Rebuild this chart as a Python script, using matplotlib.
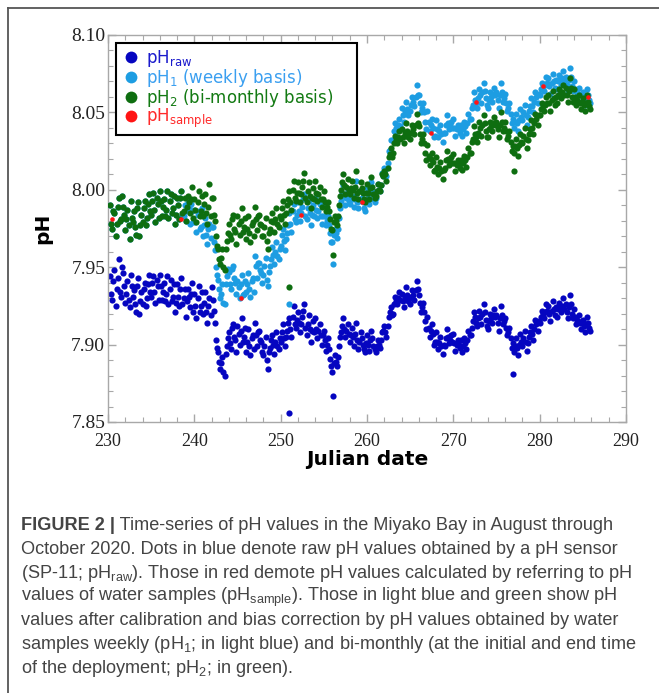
'''pH time series from the Miyako Bay mooring, Aug - Oct 2020.
Raw sensor values, two calibrated versions and the water sample values.'''

import matplotlib
matplotlib.use('Agg')
import matplotlib.pyplot as plt
from matplotlib.lines import Line2D
from matplotlib.ticker import MultipleLocator, FormatStrFormatter
from matplotlib.font_manager import FontProperties
import numpy as np

plt.rcParams['mathtext.default'] = 'regular'

#################### DATA ####################
# sensor readings every 6 h from day 230.25, plus the in-between
# readings (every 6 h from day 230.375)
t0 = 230.25
t0_mid = 230.375
dt = 0.25

ph_raw = [
    7.944, 7.929, 7.948,
    7.936, 7.955, 7.931, 7.946,  7.927, 7.941, 7.924, 7.938,
    7.935, 7.921, 7.943, 7.928,  7.926, 7.940, 7.930, 7.945,
    7.931, 7.944, 7.927, 7.938,  7.945, 7.929, 7.940, 7.933,
    7.926, 7.942, 7.931, 7.921,  7.939, 7.925, 7.943, 7.930,
    7.918, 7.936, 7.924, 7.940,  7.933, 7.917, 7.938, 7.925,
    7.920, 7.934, 7.914, 7.930,  7.937, 7.922, 7.903, 7.895,
    7.884, 7.892, 7.880, 7.899,  7.908, 7.897, 7.913, 7.903,
    7.912, 7.900, 7.917, 7.905,  7.895, 7.910, 7.893, 7.906,
    7.914, 7.899, 7.909, 7.902,  7.893, 7.905, 7.884, 7.898,
    7.906, 7.894, 7.908, 7.897,  7.902, 7.913, 7.899, 7.909,
    7.917, 7.905, 7.925, 7.911,  7.921, 7.908, 7.918, 7.926,
    7.906, 7.919, 7.902, 7.915,  7.917, 7.904, 7.913, 7.900,
    7.909, 7.896, 7.904, 7.891,  7.882, 7.893, 7.886, 7.899,
    7.908, 7.917, 7.905, 7.913,  7.902, 7.911, 7.899, 7.914,
    7.897, 7.908, 7.900, 7.895,  7.906, 7.896, 7.909, 7.899,
    7.895, 7.903, 7.898, 7.908,  7.912, 7.905, 7.918, 7.924,
    7.920, 7.931, 7.926, 7.934,  7.933, 7.924, 7.937, 7.928,
    7.926, 7.935, 7.929, 7.941,  7.932, 7.921, 7.927, 7.915,
    7.918, 7.905, 7.913, 7.900,  7.908, 7.897, 7.905, 7.894,
    7.899, 7.910, 7.901, 7.906,  7.907, 7.896, 7.903, 7.898,
    7.895, 7.904, 7.897, 7.909,  7.906, 7.915, 7.918, 7.912,
    7.922, 7.913, 7.926, 7.916,  7.910, 7.920, 7.914, 7.923,
    7.919, 7.909, 7.925, 7.913,  7.917, 7.906, 7.911, 7.898,
    7.895, 7.904, 7.893, 7.907,  7.899, 7.909, 7.896, 7.905,
    7.912, 7.903, 7.916, 7.909,  7.914, 7.922, 7.917, 7.926,
    7.925, 7.915, 7.928, 7.919,  7.918, 7.927, 7.921, 7.930,
    7.926, 7.917, 7.932, 7.920,  7.923, 7.913, 7.919, 7.910,
    7.916, 7.908, 7.918, 7.911,
]
ph_raw_mid = [
    7.933, 7.941, 7.925,
    7.943, 7.934, 7.950, 7.938,  7.933, 7.929, 7.945, 7.931,
    7.926, 7.938, 7.920, 7.934,  7.936, 7.925, 7.939, 7.934,
    7.940, 7.934, 7.942, 7.929,  7.938, 7.934, 7.928, 7.944,
    7.936, 7.928, 7.939, 7.927,  7.931, 7.936, 7.926, 7.936,
    7.928, 7.931, 7.933, 7.921,  7.925, 7.930, 7.921, 7.934,
    7.927, 7.921, 7.925, 7.919,  7.929, 7.914, 7.898, 7.889,
    7.888, 7.882, 7.894, 7.904,  7.901, 7.911, 7.905, 7.895,
    7.907, 7.909, 7.902, 7.911,  7.902, 7.899, 7.904, 7.897,
    7.906, 7.908, 7.903, 7.895,  7.899, 7.890, 7.895, 7.903,
    7.900, 7.902, 7.899, 7.904,  7.908, 7.904, 7.905, 7.914,
    7.910, 7.918, 7.913, 7.916,  7.914, 7.913, 7.922, 7.911,
    7.913, 7.910, 7.909, 7.908,  7.910, 7.909, 7.906, 7.906,
    7.903, 7.900, 7.897, 7.886,  7.888, 7.889, 7.892, 7.905,
    7.912, 7.910, 7.909, 7.907,  7.906, 7.905, 7.907, 7.903,
    7.902, 7.904, 7.897, 7.901,  7.900, 7.903, 7.904, 7.897,
    7.899, 7.900, 7.903, 7.909,  7.908, 7.912, 7.921, 7.919,
    7.926, 7.928, 7.930, 7.929,  7.928, 7.931, 7.932, 7.931,
    7.930, 7.932, 7.935, 7.936,  7.927, 7.924, 7.921, 7.910,
    7.911, 7.909, 7.907, 7.902,  7.902, 7.901, 7.899, 7.900,
    7.904, 7.905, 7.903, 7.902,  7.901, 7.900, 7.900, 7.903,
    7.899, 7.901, 7.903, 7.906,  7.911, 7.921, 7.914, 7.917,
    7.918, 7.920, 7.921, 7.912,  7.915, 7.917, 7.919, 7.918,
    7.914, 7.917, 7.919, 7.915,  7.911, 7.908, 7.904, 7.901,
    7.899, 7.898, 7.900, 7.902,  7.904, 7.902, 7.901, 7.908,
    7.907, 7.910, 7.913, 7.915,  7.918, 7.920, 7.921, 7.922,
    7.920, 7.922, 7.923, 7.924,  7.923, 7.924, 7.925, 7.923,
    7.921, 7.924, 7.926, 7.917,  7.918, 7.916, 7.914, 7.915,
    7.912, 7.913, 7.914, 7.909,
]

# weekly calibrated (pH1)
ph_1 = [
    7.990, 7.975, 7.985,
    7.978, 7.995, 7.981, 7.989,  7.974, 7.987, 7.968, 7.982,
    7.986, 7.971, 7.992, 7.977,  7.979, 7.993, 7.982, 7.997,
    7.984, 7.998, 7.979, 7.991,  7.999, 7.983, 7.994, 7.987,
    7.982, 7.997, 7.988, 7.978,  7.995, 7.981, 7.999, 7.983,
    7.980, 7.992, 7.978, 7.986,  7.987, 7.973, 7.986, 7.976,
    7.970, 7.982, 7.965, 7.978,  7.976, 7.966, 7.950, 7.942,
    7.930, 7.939, 7.926, 7.944,  7.947, 7.936, 7.951, 7.940,
    7.941, 7.930, 7.945, 7.933,  7.934, 7.946, 7.931, 7.943,
    7.957, 7.943, 7.953, 7.946,  7.945, 7.956, 7.938, 7.951,
    7.963, 7.952, 7.966, 7.955,  7.964, 7.975, 7.961, 7.972,
    7.985, 7.973, 7.991, 7.979,  7.992, 7.980, 7.989, 7.997,
    7.981, 7.993, 7.977, 7.990,  7.995, 7.982, 7.991, 7.978,
    7.990, 7.977, 7.983, 7.972,  7.966, 7.975, 7.969, 7.982,
    7.993, 8.003, 7.990, 8.000,  7.991, 8.000, 7.989, 8.006,
    7.988, 7.999, 7.992, 7.986,  8.001, 7.991, 8.005, 7.994,
    7.995, 8.004, 7.999, 8.011,  8.014, 8.009, 8.025, 8.032,
    8.032, 8.043, 8.038, 8.046,  8.053, 8.044, 8.057, 8.048,
    8.051, 8.060, 8.054, 8.068,  8.061, 8.050, 8.056, 8.044,
    8.051, 8.038, 8.046, 8.034,  8.045, 8.034, 8.042, 8.031,
    8.037, 8.048, 8.039, 8.044,  8.046, 8.035, 8.042, 8.037,
    8.035, 8.044, 8.037, 8.049,  8.046, 8.055, 8.058, 8.053,
    8.065, 8.056, 8.069, 8.059,  8.053, 8.063, 8.057, 8.066,
    8.063, 8.053, 8.069, 8.057,  8.062, 8.051, 8.056, 8.043,
    8.040, 8.049, 8.038, 8.052,  8.045, 8.055, 8.042, 8.051,
    8.059, 8.050, 8.063, 8.056,  8.061, 8.069, 8.064, 8.073,
    8.072, 8.062, 8.075, 8.066,  8.065, 8.074, 8.068, 8.077,
    8.073, 8.064, 8.079, 8.067,  8.070, 8.060, 8.066, 8.057,
    8.063, 8.055, 8.065, 8.058,
]
ph_1_mid = [
    7.978, 7.986, 7.970,
    7.989, 7.980, 7.996, 7.984,  7.981, 7.977, 7.993, 7.979,
    7.976, 7.988, 7.970, 7.984,  7.988, 7.977, 7.991, 7.986,
    7.993, 7.987, 7.995, 7.982,  7.993, 7.989, 7.983, 7.999,
    7.993, 7.985, 7.996, 7.984,  7.990, 7.995, 7.983, 7.990,
    7.986, 7.989, 7.991, 7.979,  7.979, 7.984, 7.975, 7.988,
    7.977, 7.971, 7.975, 7.969,  7.976, 7.961, 7.945, 7.936,
    7.933, 7.927, 7.939, 7.949,  7.939, 7.949, 7.943, 7.933,
    7.937, 7.939, 7.932, 7.941,  7.939, 7.936, 7.941, 7.934,
    7.951, 7.953, 7.948, 7.940,  7.951, 7.942, 7.947, 7.955,
    7.958, 7.960, 7.957, 7.962,  7.971, 7.967, 7.968, 7.977,
    7.978, 7.986, 7.981, 7.984,  7.986, 7.985, 7.994, 7.983,
    7.988, 7.985, 7.984, 7.983,  7.987, 7.986, 7.983, 7.983,
    7.983, 7.980, 7.977, 7.966,  7.971, 7.972, 7.975, 7.988,
    7.998, 7.996, 7.995, 7.993,  7.995, 7.994, 7.996, 7.992,
    7.993, 7.995, 7.988, 7.992,  7.995, 7.998, 7.999, 7.992,
    7.999, 8.000, 8.003, 8.009,  8.013, 8.017, 8.026, 8.024,
    8.038, 8.040, 8.042, 8.041,  8.048, 8.051, 8.052, 8.051,
    8.055, 8.057, 8.060, 8.061,  8.056, 8.053, 8.050, 8.039,
    8.044, 8.042, 8.040, 8.035,  8.039, 8.038, 8.036, 8.037,
    8.042, 8.043, 8.041, 8.040,  8.040, 8.039, 8.039, 8.042,
    8.039, 8.041, 8.043, 8.046,  8.053, 8.063, 8.056, 8.059,
    8.061, 8.063, 8.064, 8.055,  8.058, 8.060, 8.062, 8.061,
    8.058, 8.061, 8.063, 8.059,  8.056, 8.053, 8.049, 8.046,
    8.044, 8.043, 8.045, 8.047,  8.050, 8.048, 8.047, 8.054,
    8.054, 8.057, 8.060, 8.062,  8.065, 8.067, 8.068, 8.069,
    8.067, 8.069, 8.070, 8.071,  8.070, 8.071, 8.072, 8.070,
    8.068, 8.071, 8.073, 8.064,  8.065, 8.063, 8.061, 8.062,
    8.059, 8.060, 8.061, 8.056,
]

# bi-monthly calibrated (pH2)
ph_2 = [
    7.990, 7.975, 7.985,
    7.978, 7.995, 7.981, 7.989,  7.974, 7.987, 7.968, 7.982,
    7.986, 7.971, 7.992, 7.977,  7.979, 7.993, 7.982, 7.997,
    7.984, 7.998, 7.979, 7.991,  7.999, 7.983, 7.994, 7.987,
    7.982, 7.997, 7.988, 7.978,  7.995, 7.981, 7.999, 7.986,
    7.980, 7.996, 7.985, 8.002,  7.994, 7.979, 7.999, 7.986,
    7.983, 7.997, 7.978, 8.004,  7.995, 7.984, 7.970, 7.962,
    7.952, 7.962, 7.948, 7.967,  7.978, 7.968, 7.984, 7.973,
    7.983, 7.971, 7.988, 7.976,  7.968, 7.983, 7.966, 7.979,
    7.989, 7.974, 7.984, 7.977,  7.970, 7.982, 7.962, 7.975,
    7.985, 7.973, 7.988, 7.976,  7.981, 7.993, 7.978, 7.990,
    7.999, 7.987, 8.006, 7.993,  8.005, 7.992, 8.002, 8.011,
    7.992, 8.005, 7.988, 8.001,  8.006, 7.993, 8.002, 7.989,
    7.999, 7.986, 7.992, 7.981,  7.974, 7.983, 7.977, 7.990,
    8.000, 8.010, 7.997, 8.007,  7.997, 8.006, 7.995, 8.012,
    7.994, 8.005, 7.998, 7.992,  8.004, 7.994, 8.008, 7.997,
    7.996, 8.004, 7.999, 8.010,  8.012, 8.006, 8.021, 8.027,
    8.024, 8.035, 8.030, 8.038,  8.039, 8.030, 8.043, 8.034,
    8.033, 8.042, 8.036, 8.049,  8.041, 8.030, 8.036, 8.024,
    8.029, 8.016, 8.024, 8.012,  8.021, 8.010, 8.018, 8.007,
    8.014, 8.025, 8.016, 8.021,  8.023, 8.012, 8.019, 8.014,
    8.013, 8.022, 8.015, 8.027,  8.024, 8.033, 8.036, 8.031,
    8.044, 8.035, 8.048, 8.038,  8.034, 8.044, 8.038, 8.047,
    8.044, 8.034, 8.050, 8.038,  8.044, 8.033, 8.038, 8.025,
    8.024, 8.033, 8.022, 8.036,  8.030, 8.040, 8.027, 8.036,
    8.045, 8.036, 8.049, 8.042,  8.048, 8.056, 8.051, 8.060,
    8.061, 8.051, 8.064, 8.055,  8.056, 8.065, 8.059, 8.068,
    8.066, 8.057, 8.072, 8.060,  8.065, 8.055, 8.061, 8.052,
    8.059, 8.051, 8.061, 8.054,
]
ph_2_mid = [
    7.978, 7.986, 7.970,
    7.989, 7.980, 7.996, 7.984,  7.981, 7.977, 7.993, 7.979,
    7.976, 7.988, 7.970, 7.984,  7.988, 7.977, 7.991, 7.986,
    7.993, 7.987, 7.995, 7.982,  7.993, 7.989, 7.983, 7.999,
    7.993, 7.985, 7.996, 7.984,  7.990, 7.995, 7.985, 7.995,
    7.989, 7.992, 7.994, 7.982,  7.987, 7.992, 7.983, 7.996,
    7.991, 7.985, 7.989, 7.983,  7.995, 7.980, 7.964, 7.955,
    7.956, 7.950, 7.962, 7.972,  7.971, 7.981, 7.975, 7.965,
    7.978, 7.980, 7.973, 7.982,  7.975, 7.972, 7.977, 7.970,
    7.981, 7.983, 7.978, 7.970,  7.976, 7.967, 7.972, 7.980,
    7.979, 7.981, 7.978, 7.983,  7.988, 7.984, 7.985, 7.994,
    7.992, 8.000, 7.995, 7.998,  7.998, 7.997, 8.006, 7.995,
    7.999, 7.996, 7.995, 7.994,  7.998, 7.997, 7.994, 7.994,
    7.992, 7.989, 7.986, 7.975,  7.979, 7.980, 7.983, 7.996,
    8.005, 8.003, 8.002, 8.000,  8.001, 8.000, 8.002, 7.998,
    7.999, 8.001, 7.994, 7.998,  7.998, 8.001, 8.002, 7.995,
    7.999, 8.000, 8.003, 8.009,  8.010, 8.014, 8.023, 8.021,
    8.030, 8.032, 8.034, 8.033,  8.034, 8.037, 8.038, 8.037,
    8.037, 8.039, 8.042, 8.043,  8.036, 8.033, 8.030, 8.019,
    8.022, 8.020, 8.018, 8.013,  8.015, 8.014, 8.012, 8.013,
    8.019, 8.020, 8.018, 8.017,  8.017, 8.016, 8.016, 8.019,
    8.017, 8.019, 8.021, 8.024,  8.031, 8.041, 8.034, 8.037,
    8.040, 8.042, 8.043, 8.034,  8.039, 8.041, 8.043, 8.042,
    8.039, 8.042, 8.044, 8.040,  8.038, 8.035, 8.031, 8.028,
    8.028, 8.027, 8.029, 8.031,  8.035, 8.033, 8.032, 8.039,
    8.040, 8.043, 8.046, 8.048,  8.052, 8.054, 8.055, 8.056,
    8.056, 8.058, 8.059, 8.060,  8.061, 8.062, 8.063, 8.061,
    8.061, 8.064, 8.066, 8.057,  8.060, 8.058, 8.056, 8.057,
    8.055, 8.056, 8.057, 8.052,
]

# isolated spikes
raw_spike_day = [250.97, 256.06, 276.88]
raw_spike_ph = [7.856, 7.867, 7.881]
ph1_spike_day = [251.0, 256.1]
ph1_spike_ph = [7.926, 7.952]
ph2_spike_day = [251.0, 256.1, 277.0]
ph2_spike_ph = [7.937, 7.958, 8.012]

# water samples
sample_day = [230.5, 238.46, 245.37, 252.36, 259.46, 267.4, 272.6, 280.4, 285.6]
sample_ph = [7.981, 7.981, 7.930, 7.984, 7.992, 8.037, 8.057, 8.067, 8.060]

c_raw = '#0505c0'
c_1 = '#1d9de2'
c_2 = '#0e6e10'
c_s = '#ff1414'

################ FIGURE ################
fig = plt.figure(figsize=(6.59, 6.93), dpi=100)
W, H = 659, 693
ax = fig.add_axes([108/W, 1 - 422/H, 518/W, 387/H])

def days(start, vals):
    return start + dt*np.arange(len(vals))

def series(main, mid, spike_day, spike_ph):
    x = np.r_[days(t0, main), days(t0_mid, mid), spike_day]
    y = np.r_[main, mid, spike_ph]
    return x, y

dot = 20
for (x, y), c, z in [(series(ph_raw, ph_raw_mid, raw_spike_day, raw_spike_ph), c_raw, 2),
                     (series(ph_1, ph_1_mid, ph1_spike_day, ph1_spike_ph), c_1, 3),
                     (series(ph_2, ph_2_mid, ph2_spike_day, ph2_spike_ph), c_2, 4)]:
    ax.scatter(x, y, s=dot, c=c, linewidths=0, zorder=z)
ax.scatter(sample_day, sample_ph, s=11, c=c_s, linewidths=0, zorder=5)

ax.set_xlim(230, 290)
ax.set_ylim(7.85, 8.10)
ax.xaxis.set_major_locator(MultipleLocator(10))
ax.xaxis.set_minor_locator(MultipleLocator(2))
ax.yaxis.set_major_locator(MultipleLocator(0.05))
ax.yaxis.set_minor_locator(MultipleLocator(0.01))
ax.yaxis.set_major_formatter(FormatStrFormatter('%.2f'))

for sp in ax.spines.values():
    sp.set_color('#a8a8a8')
    sp.set_linewidth(1.0)
ax.tick_params(which='both', direction='in', top=True, right=True, color='#a8a8a8',
               labelcolor='#222222')
ax.tick_params(which='major', length=6, width=1.0)
ax.tick_params(which='minor', length=3.5, width=0.8)
ax.tick_params(axis='y', pad=2)
ax.tick_params(axis='x', pad=8)

ax.set_xlabel('Julian date', fontsize=14.5, fontweight='bold', family='DejaVu Sans', labelpad=0)
ax.set_ylabel('pH', fontsize=14.5, fontweight='bold', family='DejaVu Sans')
ax.yaxis.set_label_coords(-0.108, 0.5)

handles = [Line2D([], [], ls='', marker='o', ms=8.5, mec='none', mfc=c) for c in (c_raw, c_1, c_2, c_s)]
labels = ['pH$_{raw}$', 'pH$_{1}$ (weekly basis)', 'pH$_{2}$ (bi-monthly basis)', 'pH$_{sample}$']
lw_box = (357 - 116)/518
leg = ax.legend(handles, labels, loc='upper left', mode='expand',
                bbox_to_anchor=(8/518, 0.979 - 0.2, lw_box, 0.2),
                borderaxespad=0, fancybox=False, edgecolor='black', framealpha=1,
                prop={'family': 'DejaVu Sans', 'size': 12}, handletextpad=0.3,
                handlelength=1.2, labelspacing=-0.12, borderpad=0.3)
leg.get_frame().set_linewidth(1.5)
for txt, c in zip(leg.get_texts(), ('#1a1acc', '#3a9ff0', '#137a13', '#ff2a2a')):
    txt.set_color(c)

# page frame
fig.add_artist(Line2D([8/W, 1], [1 - 8/H, 1 - 8/H], transform=fig.transFigure, color='#555555', lw=1.3))
fig.add_artist(Line2D([8/W, 8/W], [0, 1 - 8/H], transform=fig.transFigure, color='#555555', lw=1.3))

################ CAPTION ################
cap = dict(family='Liberation Sans', size=13.1, color='#444444', va='baseline')
lines = [
    'October 2020. Dots in blue denote raw pH values obtained by a pH sensor',
    '(SP-11; pH$_{raw}$). Those in red demote pH values calculated by referring to pH',
    'values of water samples (pH$_{sample}$). Those in light blue and green show pH',
    'values after calibration and bias correction by pH values obtained by water',
    'samples weekly (pH$_{1}$; in light blue) and bi-monthly (at the initial and end time',
    'of the deployment; pH$_{2}$; in green).',
]
x0 = 21/W
base = 530
step = 23.8
head = fig.text(x0, 1 - base/H, 'FIGURE 2 |', fontweight='bold', **cap)
fig.canvas.draw()
ext = head.get_window_extent()
fig.text(ext.x1/W, 1 - base/H, ' Time-series of pH values in the Miyako Bay in August through', **cap)
for i, s in enumerate(lines):
    fig.text(x0, 1 - (base + step*(i + 1))/H, s, **cap)

# serif tick numbers, set on the drawn tick labels
serif = ['Liberation Serif', 'DejaVu Serif']
for lab in ax.get_yticklabels():
    lab.set_fontproperties(FontProperties(family=serif, size=14))
for lab in ax.get_xticklabels():
    lab.set_fontproperties(FontProperties(family=serif, size=13))

fig.savefig('out.png', dpi=100)
